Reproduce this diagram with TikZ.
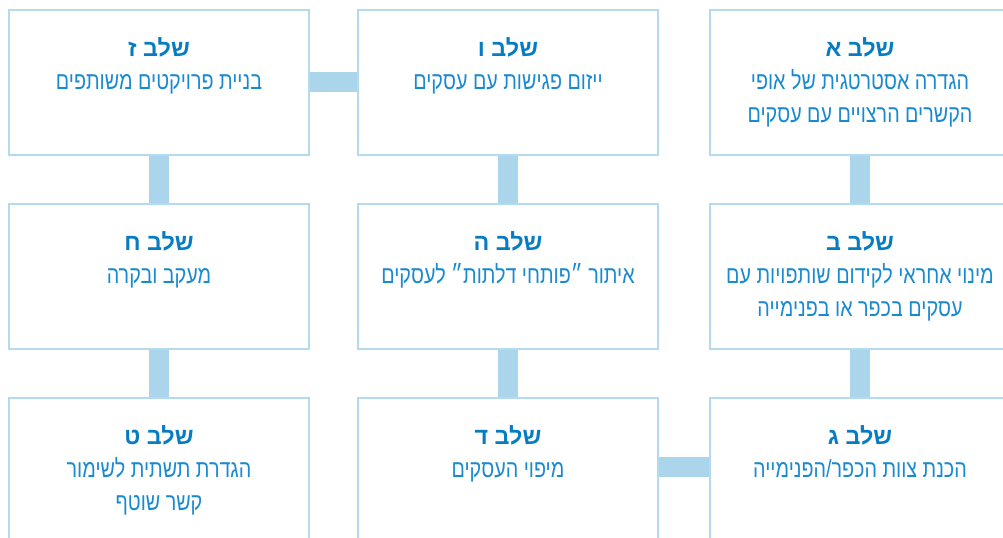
\documentclass[tikz,border=0pt]{standalone}
\usepackage{fontspec}
\usepackage{tikz}
\usetikzlibrary{positioning}
\TeXXeTstate=1
\newfontfamily\hebfont[Script=Hebrew,FakeStretch=0.8]{Liberation Sans}
\newfontfamily\hebtitlefont[Script=Hebrew]{Liberation Sans}
\definecolor{boxline}{RGB}{180,218,238}
\definecolor{barblue}{RGB}{170,213,235}
\definecolor{titleblue}{RGB}{8,124,194}
\definecolor{textblue}{RGB}{26,138,208}
\tikzset{
  stagebox/.style={draw=boxline,line width=1.5pt,fill=white,minimum width=225pt,minimum height=108.75pt,inner sep=0pt},
  stagetext/.style={anchor=north,align=center,text=textblue,font=\hebfont\fontsize{18.5}{24.75}\selectfont,yshift=-17.5pt},
  bar/.style={draw=barblue,line width=15pt}
}
\newcommand{\stagetitle}[1]{{\hebtitlefont\bfseries\fontsize{17.5}{20}\selectfont\color{titleblue}\beginR #1\endR}}
\newcommand{\rl}[1]{\beginR #1\endR}

\begin{document}
\begin{tikzpicture}
  [x=0.75pt,y=0.75pt,node distance=35.25pt and 37.5pt]
  \useasboundingbox (0,0) rectangle (1003,-538);

  \node (1) [stagebox] at (860,-82.5) {};
  \node (2) [stagebox,below=of 1] {};
  \node (3) [stagebox,below=of 2] {};
  \node (4) [stagebox,left=of 3] {};
  \node (5) [stagebox,above=of 4] {};
  \node (6) [stagebox,above=of 5] {};
  \node (7) [stagebox,left=35.25pt of 6] {};
  \node (8) [stagebox,below=of 7] {};
  \node (9) [stagebox,below=of 8] {};

\draw [bar] (1) edge (2) (2) edge (3) (4) edge (5) (5) edge (6) (7) edge (6) (7) edge (8) (8) edge (9);
\draw [bar] ([yshift=2.5pt]4.east) -- ([yshift=2.5pt]3.west);

  \node (1t) [stagetext] at (1.north) {\stagetitle{שלב א}\\ \rl{הגדרה אסטרטגית של אופי}\\ \rl{הקשרים הרצויים עם עסקים}};
  \node (2t) [stagetext] at (2.north) {\stagetitle{שלב ב}\\ \rl{מינוי אחראי לקידום שותפויות עם}\\ \rl{עסקים בכפר או בפנימייה}};
  \node (3t) [stagetext] at (3.north) {\stagetitle{שלב ג}\\ \rl{הכנת צוות הכפר/הפנימייה}};
  \node (4t) [stagetext] at (4.north) {\stagetitle{שלב ד}\\ \rl{מיפוי העסקים}};
  \node (5t) [stagetext] at (5.north) {\stagetitle{שלב ה}\\ \rl{איתור ״פותחי דלתות״ לעסקים}};
  \node (6t) [stagetext] at (6.north) {\stagetitle{שלב ו}\\ \rl{ייזום פגישות עם עסקים}};
  \node (7t) [stagetext] at (7.north) {\stagetitle{שלב ז}\\ \rl{בניית פרויקטים משותפים}};
  \node (8t) [stagetext] at (8.north) {\stagetitle{שלב ח}\\ \rl{מעקב ובקרה}};
  \node (9t) [stagetext] at (9.north) {\stagetitle{שלב ט}\\ \rl{הגדרת תשתית לשימור}\\ \rl{קשר שוטף}};
\end{tikzpicture}
\end{document}
